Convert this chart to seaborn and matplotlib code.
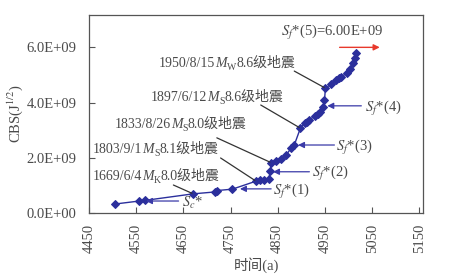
import numpy as np
import pandas as pd
import matplotlib
matplotlib.use("Agg")
import matplotlib.pyplot as plt
import matplotlib.transforms as mtransforms
import seaborn as sns

# ---------------- data ----------------
years = [4505, 4557, 4568, 4671, 4718, 4722, 4754, 4804, 4812, 4821, 4831,
         4834, 4836, 4846, 4857, 4868, 4878, 4885, 4898, 4907, 4912, 4917,
         4928, 4935, 4939, 4946, 4949, 4951, 4963, 4974, 4980, 4985, 4996,
         5003, 5010, 5013, 5015]
cbs_e9 = [0.32, 0.43, 0.45, 0.69, 0.76, 0.81, 0.86, 1.15, 1.18, 1.20, 1.21,
          1.50, 1.82, 1.89, 1.95, 2.10, 2.34, 2.46, 3.07, 3.25, 3.30, 3.37,
          3.51, 3.60, 3.67, 3.85, 4.09, 4.52, 4.67, 4.82, 4.88, 4.94, 5.06,
          5.21, 5.42, 5.61, 5.79]
cbs = [v * 1e9 for v in cbs_e9]

xtick_values = [4450, 4550, 4650, 4750, 4850, 4950, 5050, 5150]
ytick_values = [0, 2e9, 4e9, 6e9]
ytick_labels = ["0.0E+00", "2.0E+09", "4.0E+09", "6.0E+09"]

quake_dates = ["1950/8/15", "1897/6/12", "1833/8/26", "1803/9/1", "1669/6/4"]
quake_scale = ["W", "S", "S", "S", "K"]
quake_mags = ["8.6", "8.6", "8.0", "8.1", "8.0"]
quake_point_year = [4951, 4898, 4836, 4804, 4671]

sf_labels = [r"$S_c$*", r"$S_f$*(1)", r"$S_f$*(2)", r"$S_f$*(3)", r"$S_f$*(4)"]
sf_levels_e9 = [0.43, 0.87, 1.49, 2.46, 3.88]
sf5_label = r"$S_f$*(5)=6.00E+09"
sf5_level_e9 = 6.0

df = pd.DataFrame({"year": years, "cbs": cbs})

# ---------------- style ----------------
sns.set_theme(style="ticks")
plt.rcParams["font.family"] = ["Liberation Serif", "Noto Sans CJK SC"]
plt.rcParams["mathtext.fontset"] = "stix"

TXT = "#4a4a4a"
BLUE = "#2b2f9c"
AXC = "#555555"
FAM = ["Liberation Serif", "Noto Sans CJK SC"]

fig = plt.figure(figsize=(4.58, 2.79), dpi=100)
ax = fig.add_axes([0.194, 0.237, 0.730, 0.709])

sns.lineplot(data=df, x="year", y="cbs", sort=False, ax=ax, color=BLUE,
             linewidth=1.0, marker="D", markersize=3.8,
             markeredgecolor=BLUE, markerfacecolor=BLUE)

ax.set_xlim(4450, 5158)
ax.set_ylim(0, 7.17e9)
ax.set_xticks(xtick_values)
ax.set_xticklabels([str(v) for v in xtick_values], rotation=90)
ax.set_yticks(ytick_values)
ax.set_yticklabels(ytick_labels)
ax.tick_params(direction="in", length=4, width=0.8, color=AXC,
               labelcolor=TXT, labelsize=10.5)
ax.tick_params(axis="x", pad=8)
ax.tick_params(axis="y", pad=9)
for s in ax.spines.values():
    s.set_color(AXC)
    s.set_linewidth(0.9)

ax.set_xlabel("时间(a)", family=FAM, fontsize=10.5, color=TXT, labelpad=3)
ax.set_ylabel("CBS(J$^{1/2}$)", fontsize=10.5, color=TXT, labelpad=1)

renderer = fig.canvas.get_renderer()


def compose(x, y, pieces):
    """pieces: list of (text, kwargs, dy_points). Draw side by side on baseline."""
    off = 0.0
    for txt, kw, dy in pieces:
        tr = mtransforms.offset_copy(ax.transData, fig=fig, x=off, y=dy,
                                     units="points")
        t = ax.text(x, y, txt, transform=tr, ha="left", va="baseline",
                    color=TXT, **kw)
        w = t.get_window_extent(renderer=renderer).width
        off += w * 72.0 / fig.dpi


# ---------------- earthquake annotations ----------------
quake_text_pos = [(4599, 5.28e9), (4582, 4.05e9), (4505, 3.07e9),
                  (4459, 2.17e9), (4459, 1.19e9)]
quake_line_start = [(4885, 5.14e9), (4814, 3.91e9), (4721, 2.72e9),
                    (4729, 1.99e9), (4629, 1.01e9)]
for i in range(len(quake_dates)):
    base = dict(family=FAM, fontsize=10)
    pieces = [(quake_dates[i], base, 0),
              ("M", dict(family="Liberation Serif", fontsize=10,
                         fontstyle="italic"), 0),
              (quake_scale[i], dict(family="Liberation Serif", fontsize=7), -2.2),
              (quake_mags[i] + "级地震", base, 0)]
    compose(quake_text_pos[i][0], quake_text_pos[i][1], pieces)
    j = years.index(quake_point_year[i])
    ax.annotate("", xy=(years[j], cbs[j]), xytext=quake_line_start[i],
                arrowprops=dict(arrowstyle="-", color="#333333", lw=0.9,
                                shrinkA=0, shrinkB=1))

# ---------------- S arrows ----------------
sf_text_x = [4648, 4840, 4923, 4974, 5034]
sf_arrow_from = [4640, 4836, 4917, 4970, 5027]
sf_arrow_to = [4571, 4770, 4840, 4893, 4955]
for i in range(len(sf_labels)):
    y = sf_levels_e9[i] * 1e9
    ax.annotate("", xy=(sf_arrow_to[i], y), xytext=(sf_arrow_from[i], y),
                arrowprops=dict(arrowstyle="-|>", color="#3a3aa8", lw=0.9,
                                mutation_scale=9, shrinkA=0, shrinkB=0))
    ax.text(sf_text_x[i], y - 0.08e9, sf_labels[i], fontsize=10.5,
            color=TXT, ha="left", va="center")

ax.text(4857, 6.52e9, sf5_label, fontsize=10.5, color=TXT,
        ha="left", va="center")
ax.annotate("", xy=(5066, sf5_level_e9 * 1e9), xytext=(4981, sf5_level_e9 * 1e9),
            arrowprops=dict(arrowstyle="-|>", color="#e8392c", lw=1.0,
                            mutation_scale=9, shrinkA=0, shrinkB=0))

fig.savefig("out.png", dpi=100)
